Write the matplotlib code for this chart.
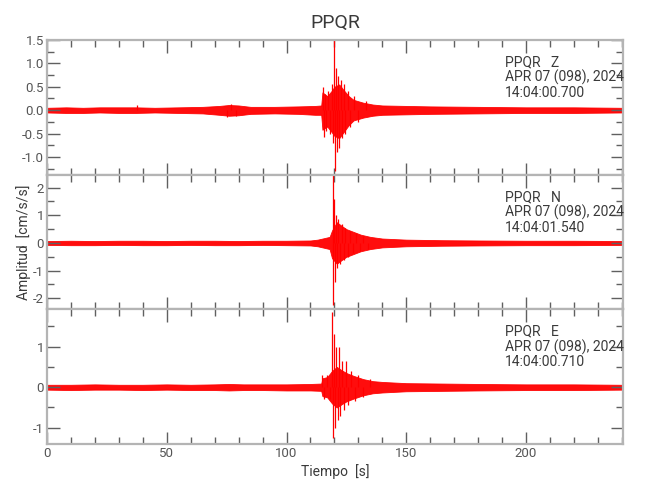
import numpy as np
import matplotlib
matplotlib.use('Agg')
from matplotlib import pyplot as plt
from matplotlib.ticker import MultipleLocator, FuncFormatter

plt.rcParams['font.family'] = ['Roboto', 'DejaVu Sans']

#------------------------------------------------------------
# Data: noise envelope knots and the visible spikes
station = 'PPQR'
components = ['Z', 'N', 'E']
start_times = ['14:04:00.700', '14:04:01.540', '14:04:00.710']
date_label = 'APR 07 (098), 2024'

# Z component
z_env_t = [0, 8, 15, 22, 30, 37, 45, 55, 65, 72, 76, 80, 85, 95, 105,
           112, 114.5, 115, 117, 119, 120, 122, 124, 126, 128, 132, 136,
           140, 150, 160, 180, 200, 220, 240]
z_env_hi = [0.05, 0.06, 0.05, 0.06, 0.06, 0.06, 0.05, 0.06, 0.07, 0.09,
            0.11, 0.10, 0.07, 0.07, 0.08, 0.09, 0.10, 0.38, 0.30, 0.42, 0.50,
            0.55, 0.42, 0.30, 0.22, 0.16, 0.12, 0.10, 0.09, 0.08, 0.07, 0.06,
            0.06, 0.05]
z_env_lo = [-0.05, -0.06, -0.06, -0.05, -0.06, -0.06, -0.05, -0.06,
            -0.07, -0.10, -0.12, -0.11, -0.08, -0.07, -0.08, -0.10, -0.10,
            -0.42, -0.35, -0.48, -0.55, -0.60, -0.46, -0.32, -0.22, -0.16,
            -0.12, -0.10, -0.09, -0.08, -0.07, -0.06, -0.06, -0.05]
z_spk_t = [37.5, 75.0, 77.0, 79.0, 115.2, 115.5, 116.1, 116.6, 117.5, 118.1,
           119.0, 119.4, 119.8, 120.1, 120.5, 120.9, 121.5, 122.0, 122.6,
           123.1, 124.0, 124.6, 125.5, 126.5, 128.0, 130.0, 133.0]
z_spk_v = [0.12, -0.15, 0.14, -0.13, 0.50, -0.57, 0.35, -0.45, 0.40, -0.50,
           0.55, -0.70, 1.60, -1.30, 0.90, -0.90, 0.72, -0.80, 0.65, -0.60,
           0.55, -0.50, 0.40, -0.35, 0.30, -0.25, 0.20]

# N component
n_env_t = [0, 10, 20, 30, 40, 50, 60, 70, 80, 90, 100, 110, 113, 116, 118,
           119, 121, 123, 125, 128, 131, 135, 140, 150, 165, 180, 200, 220,
           240]
n_env_hi = [0.07, 0.08, 0.07, 0.08, 0.08, 0.07, 0.08, 0.08, 0.07, 0.08, 0.08,
            0.09, 0.12, 0.18, 0.22, 0.45, 0.75, 0.62, 0.50, 0.40, 0.30, 0.22,
            0.16, 0.12, 0.10, 0.09, 0.08, 0.08, 0.07]
n_env_lo = [-0.07, -0.08, -0.08, -0.07, -0.08, -0.08, -0.07, -0.08, -0.08,
            -0.07, -0.08, -0.09, -0.12, -0.18, -0.22, -0.55, -0.75, -0.62,
            -0.50, -0.40, -0.30, -0.22, -0.16, -0.12, -0.10, -0.09, -0.08,
            -0.08, -0.07]
n_spk_t = [119.3, 119.5, 119.8, 120.1, 120.5, 121.0, 121.6, 122.3, 123.0,
           123.8, 124.6, 125.5, 126.6, 127.8, 129.0, 130.5, 132.0, 134.0]
n_spk_v = [2.50, -2.25, 1.60, -1.40, 1.00, -0.90, 0.85, -0.75, 0.70, -0.60,
           0.55, -0.50, 0.45, -0.35, 0.35, -0.30, 0.25, -0.22]

# E component
e_env_t = [0, 10, 20, 30, 40, 50, 60, 70, 76, 82, 90, 100, 110, 114.5, 115,
           117, 119, 121, 123, 125, 128, 132, 136, 140, 150, 165, 180, 200,
           220, 240]
e_env_hi = [0.06, 0.06, 0.07, 0.06, 0.06, 0.07, 0.06, 0.07, 0.08, 0.07, 0.07,
            0.07, 0.08, 0.09, 0.22, 0.25, 0.40, 0.50, 0.42, 0.35, 0.28, 0.20,
            0.15, 0.13, 0.10, 0.09, 0.08, 0.07, 0.07, 0.06]
e_env_lo = [-0.06, -0.07, -0.06, -0.06, -0.07, -0.06, -0.07, -0.07, -0.08,
            -0.07, -0.07, -0.08, -0.08, -0.09, -0.22, -0.25, -0.40, -0.50,
            -0.42, -0.35, -0.28, -0.20, -0.15, -0.13, -0.10, -0.09, -0.08,
            -0.07, -0.07, -0.06]
e_spk_t = [115.0, 115.5, 117.0, 118.0, 119.2, 119.5, 119.9, 120.3, 120.8,
           121.3, 121.8, 122.5, 123.2, 124.0, 125.0, 125.8, 127.0, 128.5,
           130.0, 132.0, 135.0]
e_spk_v = [0.30, -0.28, 0.30, -0.30, 1.85, -1.25, 1.30, -1.00, 1.00, -0.80,
           1.00, -0.70, 0.65, -0.55, 0.65, -0.45, 0.40, -0.35, 0.30, -0.25,
           0.20]

traces = [(z_env_t, z_env_hi, z_env_lo, z_spk_t, z_spk_v),
          (n_env_t, n_env_hi, n_env_lo, n_spk_t, n_spk_v),
          (e_env_t, e_env_hi, e_env_lo, e_spk_t, e_spk_v)]
ylims = [(-1.38, 1.5), (-2.4, 2.47), (-1.4, 1.92)]
ymajor = [0.5, 1, 1]
yminor = [0.25, 0.5, 0.5]

#------------------------------------------------------------
fig = plt.figure(figsize=(6.5, 5), dpi=100)
left, right, top, bottom = 47 / 650, 623 / 650, 1 - 40 / 500, 1 - 444 / 500
h = (top - bottom) / 3

spine_c = '#b4b4b4'
tick_c = '#606060'
text_c = '#3a3a3a'
label_c = '#555555'

for i, (et, ehi, elo, st, sv) in enumerate(traces):
    ax = fig.add_axes([left, top - (i + 1) * h, right - left, h])
    ax.fill_between(et, elo, ehi, color='#ff0000', lw=0.6, alpha=0.95)
    ax.vlines(st, 0, sv, color='#ff0000', lw=0.9)
    ax.set_xlim(0, 240.5)
    ax.set_ylim(*ylims[i])

    for s in ax.spines.values():
        s.set_color(spine_c)
        s.set_linewidth(1.6)
    ax.xaxis.set_major_locator(MultipleLocator(50))
    ax.xaxis.set_minor_locator(MultipleLocator(10))
    ax.yaxis.set_major_locator(MultipleLocator(ymajor[i]))
    ax.yaxis.set_minor_locator(MultipleLocator(yminor[i]))
    ax.tick_params(which='both', direction='in', top=True, right=True,
                   color=tick_c, labelcolor=label_c, labelsize=9.5, width=1,
                   pad=2)
    ax.tick_params(which='major', length=9)
    ax.tick_params(which='minor', length=5)
    if i == 0:
        ax.yaxis.set_major_formatter(FuncFormatter(lambda v, p: '%.1f' % v))
    else:
        ax.yaxis.set_major_formatter(FuncFormatter(lambda v, p: '%d' % round(v)))
    if i < 2:
        ax.tick_params(labelbottom=False)
    else:
        ax.set_xlabel('Tiempo  [s]', color=text_c, fontsize=10, labelpad=3)

    ax.text(0.795, 0.885,
            '%s   %s\n%s\n%s' % (station, components[i], date_label, start_times[i]),
            transform=ax.transAxes, ha='left', va='top', color=text_c,
            fontsize=10, linespacing=1.05)

    if i == 0:
        ax.set_title(station, color=text_c, fontsize=14, pad=9)

fig.text(24 / 650, 1 - 242 / 500, 'Amplitud  [cm/s/s]', rotation=90,
         ha='center', va='center', color=text_c, fontsize=10)

fig.savefig('out.png', dpi=100)
